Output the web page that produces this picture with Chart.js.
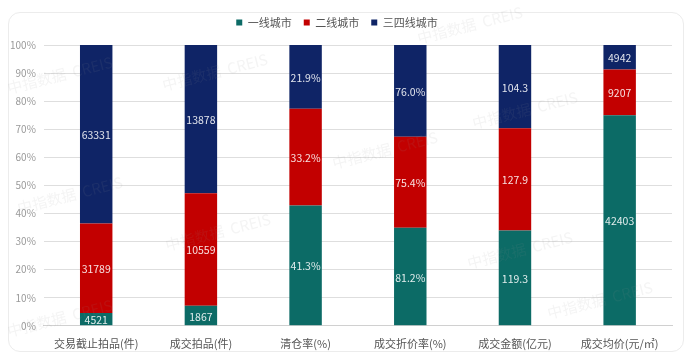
<!DOCTYPE html>
<html>
<head>
<meta charset="utf-8">
<script src="https://cdn.jsdelivr.net/npm/chart.js@4"></script>
<style>
  body { margin: 0; background: #fff; }
  #card { position: absolute; left: 8px; top: 12px; width: 674px; height: 338px; border: 1px solid #ececec; border-radius: 12px; }
  #wrap { position: absolute; left: 0; top: 0; width: 692px; height: 362px; }
</style>
</head>
<body>
<div id="card"></div>
<div id="wrap"><canvas id="canvas"></canvas></div>
<script>
// categories and raw values
let categories = ['交易截止拍品(件)', '成交拍品(件)', '清仓率(%)', '成交折价率(%)', '成交金额(亿元)', '成交均价(元/㎡)'];
let tier1 = [4521, 1867, 41.3, 81.2, 119.3, 42403];
let tier2 = [31789, 10559, 33.2, 75.4, 127.9, 9207];
let tier3 = [63331, 13878, 21.9, 76.0, 104.3, 4942];
let decimals = [0, 0, 1, 1, 1, 0];
let suffix = ['', '', '%', '%', '', ''];
let yTicks = [0, 10, 20, 30, 40, 50, 60, 70, 80, 90, 100];

// bars are shown as share of the column total
function toPercent(arr) {
  return arr.map(function (v, i) {
    let total = tier1[i] + tier2[i] + tier3[i];
    return v / total * 100;
  });
}

let fontFamily = '"Noto Sans CJK SC", "Noto Sans", sans-serif';

let valueLabels = {
  id: 'valueLabels',
  afterDatasetsDraw: function (chart) {
    let ctx = chart.ctx;
    ctx.save();
    ctx.font = '10.5px ' + fontFamily;
    ctx.textAlign = 'center';
    ctx.textBaseline = 'middle';
    chart.data.datasets.forEach(function (ds, di) {
      let meta = chart.getDatasetMeta(di);
      meta.data.forEach(function (bar, i) {
        let raw = ds.raw[i];
        let text = raw.toFixed(decimals[i]) + suffix[i];
        ctx.fillStyle = 'rgba(255,255,255,0.88)';
        ctx.fillText(text, bar.x, (bar.y + bar.base) / 2 + 1);
      });
    });
    ctx.restore();
  }
};

let watermark = {
  id: 'watermark',
  afterDraw: function (chart) {
    let ctx = chart.ctx;
    let spots = [[215, 72], [525, 110], [70, 195], [385, 150], [218, 232], [520, 250], [60, 318], [600, 300], [60, 75], [470, 25]];
    ctx.save();
    ctx.font = '15px ' + fontFamily;
    ctx.fillStyle = 'rgba(150,150,150,0.10)';
    ctx.textAlign = 'center';
    ctx.textBaseline = 'middle';
    spots.forEach(function (p) {
      ctx.save();
      ctx.translate(p[0], p[1]);
      ctx.rotate(-0.25);
      ctx.fillText('中指数据  CREIS', 0, 0);
      ctx.restore();
    });
    ctx.restore();
  }
};

// a bit more room under the legend
let legendGap = {
  id: 'legendGap',
  afterInit: function (chart) {
    let orig = chart.legend.fit;
    chart.legend.fit = function () {
      orig.bind(chart.legend)();
      this.height += 7;
    };
  }
};

let myChart = document.getElementById('canvas').getContext('2d');

let chart = new Chart(myChart, {
  type: 'bar',
  data: {
    labels: categories,
    datasets: [{
      label: '一线城市',
      backgroundColor: '#0c6b66',
      data: toPercent(tier1),
      raw: tier1
    },
    {
      label: '二线城市',
      backgroundColor: '#c20000',
      data: toPercent(tier2),
      raw: tier2
    },
    {
      label: '三四线城市',
      backgroundColor: '#0f2466',
      data: toPercent(tier3),
      raw: tier3
    }]
  },
  options: {
    responsive: true,
    maintainAspectRatio: false,
    animation: false,
    layout: { padding: { left: 2, right: 20, top: 5, bottom: 9 } },
    datasets: {
      bar: { barPercentage: 0.31, categoryPercentage: 1 }
    },
    plugins: {
      tooltip: { enabled: false },
      legend: {
        position: 'top',
        labels: {
          boxWidth: 6,
          boxHeight: 6,
          padding: 12,
          color: '#555',
          font: { size: 11, family: fontFamily }
        }
      }
    },
    scales: {
      x: {
        stacked: true,
        grid: { display: false },
        border: { color: '#d0d0d0' },
        ticks: { color: '#555', font: { size: 11, family: fontFamily }, maxRotation: 0, autoSkip: false }
      },
      y: {
        stacked: true,
        min: 0,
        max: 100,
        afterBuildTicks: function (axis) {
          axis.ticks = yTicks.map(function (v) { return { value: v }; });
        },
        grid: { color: '#dedede', drawTicks: false },
        border: { display: false },
        ticks: {
          color: '#999',
          padding: 8,
          font: { size: 10, family: fontFamily },
          callback: function (v) { return v + '%'; }
        }
      }
    }
  },
  plugins: [valueLabels, watermark, legendGap]
});
</script>
</body>
</html>
